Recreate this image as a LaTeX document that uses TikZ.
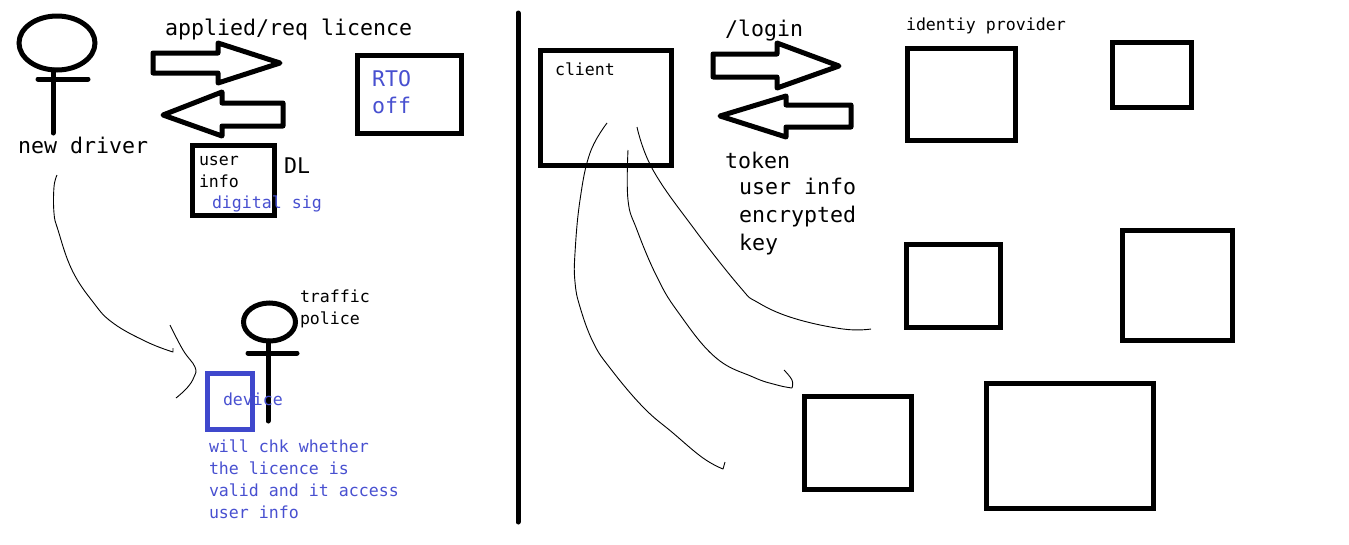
\documentclass[tikz,border=0pt]{standalone}
\usepackage{fontspec}
\setmonofont{DejaVu Sans Mono}
\usetikzlibrary{shapes.geometric}
\definecolor{inkblue}{RGB}{63,72,204}
\definecolor{textblue}{RGB}{72,80,208}
\tikzset{
  x=1pt,y=-1pt,
  pen/.style={line width=5pt,line cap=round,line join=round,draw=black},
  hair/.style={line width=0.9pt,draw=black,line join=round},
  pbox/.style={draw=black,line width=5pt,rectangle,inner sep=0pt,outer sep=0pt,anchor=north west,line join=miter},
  head/.style={draw=black,line width=5pt,ellipse,inner sep=0pt,outer sep=0pt},
  big/.style={inner sep=0pt,outer sep=0pt,anchor=base west,font=\ttfamily\fontsize{21.6}{28}\selectfont},
  small/.style={inner sep=0pt,outer sep=0pt,anchor=base west,font=\ttfamily\fontsize{16.6}{22}\selectfont},
}
\begin{document}
\begin{tikzpicture}
\useasboundingbox (0,0) rectangle (1349,544);
% new driver
\node[head,minimum width=76pt,minimum height=54pt] (driverhead) at (57,43) {};
\coordinate (driverfoot) at (53,133);
\coordinate (driverarmL) at (38,79);
\coordinate (driverarmR) at (88,79);
\draw[pen] (53,70) -- (driverfoot);
\draw[pen] (driverarmL) -- (driverarmR);
\node[big] (newdriver) at (18,153) {new driver};
% block arrows left
\node[big] (applied) at (165,35) {applied/req licence};
\draw[pen] (153,53) -- (218,53) -- (218,43) -- (280,63) -- (218,83) -- (218,73) -- (153,73) -- cycle;
\draw[pen] (283,103) -- (222,103) -- (222,92) -- (163,115) -- (222,136) -- (222,126) -- (283,126) -- cycle;
% RTO
\node[pbox,minimum width=104pt,minimum height=78pt] (rto) at (357.5,55.5) {};
\node[big,text=textblue] (rtotext) at (372,86) {RTO};
\node[big,text=textblue] (offtext) at (372,113) {off};
% DL
\node[pbox,minimum width=82pt,minimum height=70pt] (dl) at (192.5,145.5) {};
\node[small] (usertext) at (199,165) {user};
\node[small] (infotext) at (199,187) {info};
\node[big] (dltext) at (284,173) {DL};
\node[small,text=textblue] (digsig) at (212,208) {digital sig};
% driver to police curve
\draw[hair] plot[smooth,tension=.7] coordinates {(57,175) (54,187) (54,213) (58,230) (72,270) (93,302) (113,323) (147,342) (173,352)} -- (173,348);
\draw[hair] plot[smooth,tension=.7] coordinates {(170,325) (183,350) (195,367) (194,377) (187,388) (176,398)};
% police
\node[head,minimum width=52pt,minimum height=38pt] (policehead) at (269.5,322) {};
\coordinate (policefoot) at (268,421);
\coordinate (policearmL) at (248,353);
\coordinate (policearmR) at (297,353);
\draw[pen] (268,341) -- (policefoot);
\draw[pen] (policearmL) -- (policearmR);
\node[small] (traffic) at (300,302) {traffic};
\node[small] (police) at (300,324) {police};
% device
\node[pbox,draw=inkblue,minimum width=45pt,minimum height=56pt] (device) at (207.5,373.5) {};
\node[small,text=textblue] (devicetext) at (223,405) {device};
\node[small,text=textblue] (noteA) at (209,452) {will chk whether};
\node[small,text=textblue] (noteB) at (209,474) {the licence is};
\node[small,text=textblue] (noteC) at (209,496) {valid and it access};
\node[small,text=textblue] (noteD) at (209,518) {user info};
% divider
\coordinate (divtop) at (518,13);
\coordinate (divbot) at (518,522);
\draw[pen] (divtop) -- (divbot);
% client
\node[pbox,minimum width=131pt,minimum height=115pt] (client) at (540.5,50.5) {};
\node[small] (clienttext) at (555,75) {client};
\node[big] (login) at (725,36) {/login};
\draw[pen] (713,54) -- (777,54) -- (777,43) -- (839,66) -- (777,88) -- (777,77) -- (713,77) -- cycle;
\draw[pen] (851,105) -- (786,105) -- (786,96) -- (720,116) -- (786,137) -- (786,127) -- (851,127) -- cycle;
\node[big] (token) at (725,168) {token};
\node[big] (tokeninfo) at (739,194) {user info};
\node[big] (tokenenc) at (739,222) {encrypted};
\node[big] (tokenkey) at (739,250) {key};
% identity provider
\node[small] (idp) at (906,30) {identiy provider};
\node[pbox,minimum width=108pt,minimum height=92pt] (idpbox) at (907.5,48.5) {};
\node[pbox,minimum width=79pt,minimum height=65pt] (smallbox) at (1112.5,42.5) {};
\node[pbox,minimum width=94pt,minimum height=83pt] (midbox) at (906.5,244.5) {};
\node[pbox,minimum width=110pt,minimum height=110pt] (rightbox) at (1122.5,230.5) {};
\node[pbox,minimum width=107pt,minimum height=93pt] (bottombox) at (804.5,396.5) {};
\node[pbox,minimum width=167pt,minimum height=125pt] (largebox) at (986.5,383.5) {};
% client curves
\draw[hair] plot[smooth,tension=.7] coordinates {(607,123) (590,153) (580,200) (575,253) (575,282) (580,307) (593,342) (610,368) (643,407) (673,433) (703,458) (723,469)} -- (725,462);
\draw[hair] plot[smooth,tension=.7] coordinates {(628,150) (628,200) (637,230) (657,277) (678,312) (715,357) (753,377) (777,385) (792,388)};
\draw[hair] plot[smooth,tension=.7] coordinates {(792,388) (792,380) (784,370)};
\draw[hair] plot[smooth,tension=.7] coordinates {(637,127) (653,170) (695,230) (740,287) (757,302) (793,318) (843,329) (871,329)};
\end{tikzpicture}
\end{document}
